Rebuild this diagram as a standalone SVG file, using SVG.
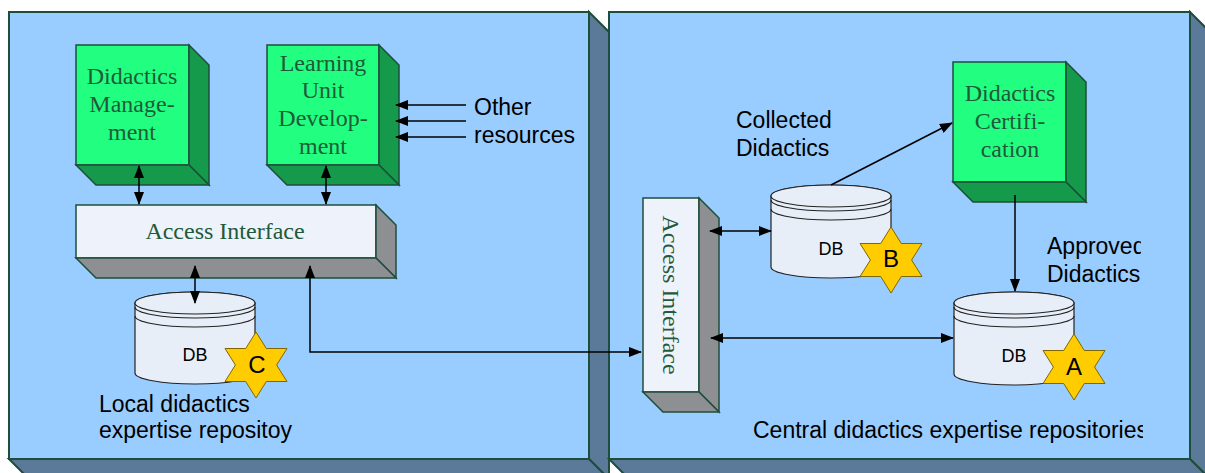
<svg xmlns="http://www.w3.org/2000/svg" xmlns:xlink="http://www.w3.org/1999/xlink" width="1205" height="473" viewBox="0 0 1205 473">
<style>
.pf{fill:#99CCFF;stroke:#1E4D3B;stroke-width:2;stroke-linejoin:miter}
.ps{fill:#5B7A99;stroke:#1E4D3B;stroke-width:2}
.gf{fill:#22FF80;stroke:#1E4D3B;stroke-width:1.5}
.gs{fill:#15994A;stroke:#1E4D3B;stroke-width:1.5}
.af{fill:#EEF2FA;stroke:#1E4D3B;stroke-width:1.5}
.as{fill:#8E8F92;stroke:#1E4D3B;stroke-width:1.5}
.db{fill:#E8EEF8;stroke:#222;stroke-width:1.2}
.ring{fill:none;stroke:#222;stroke-width:1.2}
.star{fill:#FFCC00;stroke:#806600;stroke-width:1}
.bt{font-family:"Liberation Serif","Times New Roman",serif;font-size:24px;fill:#1F5A3A;text-anchor:middle}
.lb{font-family:"Liberation Sans",Arial,sans-serif;font-size:23px;fill:#000}
.dbt{font-family:"Liberation Sans",Arial,sans-serif;font-size:18px;fill:#000;text-anchor:middle}
.sl{font-family:"Liberation Sans",Arial,sans-serif;font-size:24px;fill:#000;text-anchor:middle}
.cn{fill:none;stroke:#000;stroke-width:1.5}
</style>
<defs>
<marker id="ah" markerUnits="userSpaceOnUse" markerWidth="13" markerHeight="10" refX="12" refY="5" orient="auto-start-reverse" viewBox="0 0 13 10">
<path d="M0,0 L13,5 L0,10 z" fill="#000"/>
</marker>
<polygon id="hex" class="star" points="0,-33 10.3,-16.5 31,-16.5 20.6,0 31,16.5 10.3,16.5 0,33 -10.3,16.5 -31,16.5 -20.6,0 -31,-16.5 -10.3,-16.5"/>
<clipPath id="clipAppr"><rect x="1000" y="220" width="141" height="80"/></clipPath>
<clipPath id="clipCent"><rect x="740" y="410" width="403" height="40"/></clipPath>
</defs>

<g id="panel-local">
<rect class="pf" x="9" y="12" width="580" height="447"/>
<polygon class="ps" points="589,12 609,32 609,479 589,459"/>
<polygon class="ps" points="9,459 589,459 609,479 29,479"/>
</g>
<g id="panel-central">
<rect class="pf" x="609" y="12" width="581" height="447"/>
<polygon class="ps" points="1190,12 1210,32 1210,479 1190,459"/>
<polygon class="ps" points="609,459 1190,459 1210,479 629,479"/>
</g>

<g id="didactics-management">
<rect class="gf" x="76" y="45" width="113" height="120"/>
<polygon class="gs" points="189,45 209,65 209,185 189,165"/>
<polygon class="gs" points="76,165 189,165 209,185 96,185"/>
<text class="bt" x="132" y="84">Didactics</text>
<text class="bt" x="132" y="112">Manage-</text>
<text class="bt" x="132" y="140">ment</text>
</g>

<g id="learning-unit-development">
<rect class="gf" x="267" y="45" width="112" height="120"/>
<polygon class="gs" points="379,45 399,65 399,185 379,165"/>
<polygon class="gs" points="267,165 379,165 399,185 287,185"/>
<text class="bt" x="323" y="71">Learning</text>
<text class="bt" x="323" y="98">Unit</text>
<text class="bt" x="323" y="126">Develop-</text>
<text class="bt" x="323" y="154">ment</text>
</g>

<g id="other-resources">
<text class="lb" x="474" y="115">Other</text>
<text class="lb" x="474" y="143">resources</text>
</g>

<g id="access-interface-local">
<rect class="af" x="76" y="205" width="300" height="53"/>
<polygon class="as" points="376,205 396,225 396,278 376,258"/>
<polygon class="as" points="76,258 376,258 396,278 96,278"/>
<text class="bt" x="225" y="239">Access Interface</text>
</g>

<g id="db-c">
<path class="db" d="M135,303 L135,373 A60,11 0 0 0 255,373 L255,303 A60,11 0 0 0 135,303 Z"/>
<ellipse class="db" cx="195" cy="303" rx="60" ry="11"/>
<path class="ring" d="M135,307 A60,11 0 0 0 255,307 M135,316 A60,11 0 0 0 255,316"/>
<text class="dbt" x="195" y="361">DB</text>
<use xlink:href="#hex" href="#hex" x="256" y="365"/>
<text class="sl" x="257" y="373">C</text>
</g>

<g id="local-label">
<text class="lb" x="99" y="412">Local didactics</text>
<text class="lb" x="99" y="438">expertise repositoy</text>
</g>

<g id="access-interface-central">
<rect class="af" x="643" y="198" width="56" height="194"/>
<polygon class="as" points="699,198 719,218 719,412 699,392"/>
<polygon class="as" points="643,392 699,392 719,412 663,412"/>
<text class="bt" transform="translate(663,295) rotate(90)" x="0" y="0">Access Interface</text>
</g>

<g id="collected-label">
<text class="lb" x="736" y="128">Collected</text>
<text class="lb" x="736" y="156">Didactics</text>
</g>

<g id="db-b">
<path class="db" d="M771,196 L771,267 A60,11 0 0 0 891,267 L891,196 A60,11 0 0 0 771,196 Z"/>
<ellipse class="db" cx="831" cy="196" rx="60" ry="11"/>
<path class="ring" d="M771,200 A60,11 0 0 0 891,200 M771,209 A60,11 0 0 0 891,209"/>
<text class="dbt" x="831" y="255">DB</text>
<use xlink:href="#hex" href="#hex" x="891" y="260"/>
<text class="sl" x="891" y="267">B</text>
</g>

<g id="didactics-certification">
<rect class="gf" x="953" y="62" width="113" height="120"/>
<polygon class="gs" points="1066,62 1086,82 1086,202 1066,182"/>
<polygon class="gs" points="953,182 1066,182 1086,202 973,202"/>
<text class="bt" x="1010" y="101">Didactics</text>
<text class="bt" x="1010" y="129">Certifi-</text>
<text class="bt" x="1010" y="157">cation</text>
</g>

<g id="approved-label">
<g clip-path="url(#clipAppr)">
<text class="lb" x="1047" y="254">Approved</text>
</g>
<text class="lb" x="1047" y="282">Didactics</text>
</g>

<g id="db-a">
<path class="db" d="M954,303 L954,374 A60,11 0 0 0 1074,374 L1074,303 A60,11 0 0 0 954,303 Z"/>
<ellipse class="db" cx="1014" cy="303" rx="60" ry="11"/>
<path class="ring" d="M954,307 A60,11 0 0 0 1074,307 M954,316 A60,11 0 0 0 1074,316"/>
<text class="dbt" x="1014" y="362">DB</text>
<use xlink:href="#hex" href="#hex" x="1074" y="367"/>
<text class="sl" x="1074" y="375">A</text>
</g>

<g id="central-label" clip-path="url(#clipCent)">
<text class="lb" x="753" y="438">Central didactics expertise repositories</text>
</g>

<g id="connectors">
<line class="cn" x1="139" y1="166" x2="139" y2="204" marker-start="url(#ah)" marker-end="url(#ah)"/>
<line class="cn" x1="326" y1="166" x2="326" y2="204" marker-start="url(#ah)" marker-end="url(#ah)"/>
<line class="cn" x1="466" y1="105" x2="396" y2="105" marker-end="url(#ah)"/>
<line class="cn" x1="466" y1="121" x2="396" y2="121" marker-end="url(#ah)"/>
<line class="cn" x1="466" y1="137" x2="396" y2="137" marker-end="url(#ah)"/>
<line class="cn" x1="195" y1="266" x2="195" y2="303" marker-start="url(#ah)" marker-end="url(#ah)"/>
<polyline class="cn" points="310,266 310,352 641,352" marker-start="url(#ah)" marker-end="url(#ah)"/>
<line class="cn" x1="710" y1="231" x2="771" y2="231" marker-start="url(#ah)" marker-end="url(#ah)"/>
<line class="cn" x1="711" y1="338" x2="953" y2="338" marker-start="url(#ah)" marker-end="url(#ah)"/>
<line class="cn" x1="831" y1="185" x2="952" y2="123" marker-end="url(#ah)"/>
<line class="cn" x1="1015" y1="195" x2="1015" y2="291" marker-end="url(#ah)"/>
</g>
</svg>
